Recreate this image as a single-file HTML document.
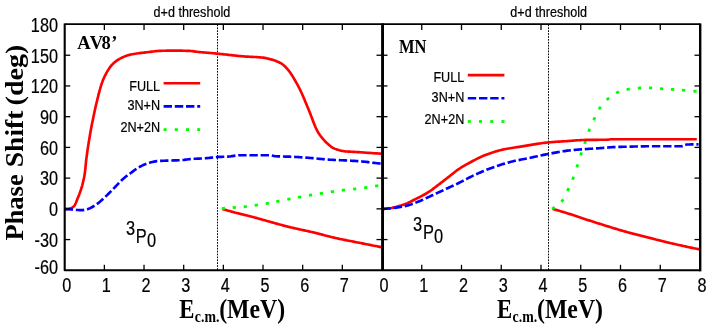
<!DOCTYPE html>
<html><head><meta charset="utf-8"><title>Phase shift</title>
<style>
html,body{margin:0;padding:0;background:#fff;}
body{width:708px;height:327px;overflow:hidden;font-family:"Liberation Sans",sans-serif;}
svg{display:block;will-change:transform;}
</style></head>
<body>
<svg width="708" height="327" viewBox="0 0 708 327">
<rect width="708" height="327" fill="#fff"/>
<g fill="#00ff00">
<rect x="-1.6" y="-1.4" width="3.2" height="2.8" transform="translate(234.30 207.50) rotate(-4.7)"/>
<rect x="-1.6" y="-1.4" width="3.2" height="2.8" transform="translate(245.30 206.60) rotate(-6.2)"/>
<rect x="-1.6" y="-1.4" width="3.2" height="2.8" transform="translate(256.30 205.10) rotate(-8.5)"/>
<rect x="-1.6" y="-1.4" width="3.2" height="2.8" transform="translate(267.30 203.30) rotate(-10.0)"/>
<rect x="-1.6" y="-1.4" width="3.2" height="2.8" transform="translate(277.90 201.30) rotate(-11.0)"/>
<rect x="-1.6" y="-1.4" width="3.2" height="2.8" transform="translate(288.90 199.10) rotate(-10.7)"/>
<rect x="-1.6" y="-1.4" width="3.2" height="2.8" transform="translate(299.60 197.20) rotate(-10.2)"/>
<rect x="-1.6" y="-1.4" width="3.2" height="2.8" transform="translate(310.60 195.20) rotate(-10.1)"/>
<rect x="-1.6" y="-1.4" width="3.2" height="2.8" transform="translate(321.40 193.30) rotate(-9.1)"/>
<rect x="-1.6" y="-1.4" width="3.2" height="2.8" transform="translate(332.40 191.70) rotate(-8.3)"/>
<rect x="-1.6" y="-1.4" width="3.2" height="2.8" transform="translate(343.40 190.10) rotate(-6.9)"/>
<rect x="-1.6" y="-1.4" width="3.2" height="2.8" transform="translate(354.70 189.00) rotate(-6.4)"/>
<rect x="-1.6" y="-1.4" width="3.2" height="2.8" transform="translate(365.70 187.60) rotate(-8.3)"/>
<rect x="-1.6" y="-1.4" width="3.2" height="2.8" transform="translate(376.70 185.80) rotate(-9.3)"/>
<rect x="-1.6" y="-1.4" width="3.2" height="2.8" transform="translate(562.40 200.60) rotate(-51.4)"/>
<rect x="-1.6" y="-1.4" width="3.2" height="2.8" transform="translate(568.10 189.60) rotate(-64.4)"/>
<rect x="-1.6" y="-1.4" width="3.2" height="2.8" transform="translate(573.10 178.30) rotate(-68.8)"/>
<rect x="-1.6" y="-1.4" width="3.2" height="2.8" transform="translate(577.30 165.90) rotate(-71.8)"/>
<rect x="-1.6" y="-1.4" width="3.2" height="2.8" transform="translate(581.10 153.90) rotate(-71.6)"/>
<rect x="-1.6" y="-1.4" width="3.2" height="2.8" transform="translate(585.10 142.40) rotate(-71.1)"/>
<rect x="-1.6" y="-1.4" width="3.2" height="2.8" transform="translate(589.20 130.20) rotate(-68.8)"/>
<rect x="-1.6" y="-1.4" width="3.2" height="2.8" transform="translate(594.30 118.70) rotate(-64.5)"/>
<rect x="-1.6" y="-1.4" width="3.2" height="2.8" transform="translate(599.80 108.00) rotate(-55.5)"/>
<rect x="-1.6" y="-1.4" width="3.2" height="2.8" transform="translate(607.90 98.90) rotate(-41.2)"/>
<rect x="-1.6" y="-1.4" width="3.2" height="2.8" transform="translate(617.60 92.40) rotate(-25.3)"/>
<rect x="-1.6" y="-1.4" width="3.2" height="2.8" transform="translate(628.20 89.30) rotate(-11.2)"/>
<rect x="-1.6" y="-1.4" width="3.2" height="2.8" transform="translate(639.40 88.10) rotate(-3.6)"/>
<rect x="-1.6" y="-1.4" width="3.2" height="2.8" transform="translate(650.60 87.90) rotate(1.5)"/>
<rect x="-1.6" y="-1.4" width="3.2" height="2.8" transform="translate(661.60 88.70) rotate(3.9)"/>
<rect x="-1.6" y="-1.4" width="3.2" height="2.8" transform="translate(672.60 89.40) rotate(3.9)"/>
<rect x="-1.6" y="-1.4" width="3.2" height="2.8" transform="translate(683.60 90.20) rotate(4.8)"/>
<rect x="-1.6" y="-1.4" width="3.2" height="2.8" transform="translate(695.00 91.30) rotate(5.5)"/>
</g>
<g fill="none" stroke-linejoin="round">
<line x1="217.5" y1="24.5" x2="217.5" y2="270.3" stroke="#000" stroke-width="1" stroke-dasharray="1.7 1.2"/>
<line x1="548.5" y1="24.5" x2="548.5" y2="270.3" stroke="#000" stroke-width="1" stroke-dasharray="1.7 1.2"/>
<path d="M64.70,209.10 L66.24,209.08 L67.74,209.03 L69.20,208.87 L70.72,208.38 L72.16,207.63 L73.38,206.77 L74.30,205.85 L75.06,204.67 L75.72,203.28 L76.33,201.79 L76.90,200.28 L77.47,198.84 L78.04,197.45 L78.61,196.05 L79.17,194.65 L79.70,193.23 L80.22,191.81 L80.72,190.38 L81.19,188.95 L81.63,187.51 L82.04,186.07 L82.42,184.61 L82.80,183.16 L83.16,181.69 L83.50,180.22 L83.83,178.74 L84.13,177.26 L84.40,175.77 L84.65,174.29 L84.87,172.80 L85.06,171.31 L85.23,169.81 L85.38,168.31 L85.52,166.81 L85.66,165.31 L85.80,163.80 L85.94,162.30 L86.11,160.80 L86.29,159.31 L86.47,157.81 L86.67,156.32 L86.87,154.82 L87.07,153.33 L87.28,151.84 L87.50,150.34 L87.72,148.85 L87.95,147.36 L88.18,145.87 L88.41,144.38 L88.65,142.89 L88.89,141.40 L89.13,139.91 L89.38,138.43 L89.63,136.94 L89.88,135.45 L90.13,133.97 L90.39,132.48 L90.65,131.00 L90.92,129.52 L91.20,128.04 L91.48,126.56 L91.77,125.08 L92.07,123.60 L92.36,122.12 L92.66,120.64 L92.97,119.16 L93.28,117.69 L93.58,116.21 L93.89,114.74 L94.20,113.26 L94.51,111.79 L94.83,110.31 L95.15,108.84 L95.48,107.37 L95.81,105.90 L96.16,104.43 L96.51,102.97 L96.86,101.50 L97.22,100.03 L97.58,98.56 L97.94,97.09 L98.30,95.62 L98.67,94.15 L99.05,92.69 L99.44,91.22 L99.84,89.77 L100.26,88.32 L100.68,86.87 L101.13,85.44 L101.59,84.01 L102.08,82.60 L102.59,81.19 L103.14,79.80 L103.73,78.40 L104.36,77.02 L105.02,75.66 L105.72,74.31 L106.44,72.99 L107.18,71.69 L107.95,70.39 L108.77,69.10 L109.63,67.82 L110.53,66.59 L111.47,65.43 L112.46,64.34 L113.52,63.31 L114.65,62.31 L115.84,61.35 L117.09,60.44 L118.36,59.58 L119.66,58.81 L120.97,58.12 L122.31,57.47 L123.68,56.86 L125.10,56.28 L126.53,55.74 L127.98,55.26 L129.44,54.85 L130.89,54.50 L132.35,54.21 L133.82,53.95 L135.30,53.70 L136.78,53.48 L138.28,53.28 L139.78,53.08 L141.28,52.90 L142.79,52.73 L144.30,52.56 L145.81,52.39 L147.31,52.22 L148.81,52.05 L150.31,51.86 L151.80,51.66 L153.30,51.46 L154.80,51.27 L156.30,51.10 L157.80,50.97 L159.30,50.90 L160.80,50.85 L162.31,50.80 L163.82,50.76 L165.32,50.72 L166.83,50.69 L168.34,50.66 L169.85,50.64 L171.36,50.62 L172.86,50.61 L174.37,50.60 L175.88,50.60 L177.39,50.61 L178.90,50.63 L180.40,50.65 L181.91,50.68 L183.42,50.72 L184.93,50.76 L186.43,50.81 L187.94,50.86 L189.44,50.92 L190.94,51.03 L192.44,51.18 L193.94,51.37 L195.43,51.58 L196.93,51.79 L198.43,51.98 L199.92,52.14 L201.42,52.29 L202.93,52.42 L204.43,52.55 L205.93,52.68 L207.43,52.80 L208.93,52.93 L210.44,53.05 L211.94,53.17 L213.44,53.30 L214.94,53.43 L216.45,53.56 L217.95,53.70 L219.45,53.85 L220.95,54.01 L222.44,54.17 L223.94,54.33 L225.44,54.50 L226.94,54.67 L228.44,54.83 L229.94,54.99 L231.44,55.16 L232.93,55.32 L234.43,55.50 L235.93,55.67 L237.43,55.83 L238.93,56.00 L240.43,56.15 L241.93,56.29 L243.43,56.41 L244.93,56.52 L246.44,56.61 L247.95,56.69 L249.46,56.76 L250.97,56.83 L252.48,56.90 L253.99,56.97 L255.50,57.05 L257.00,57.13 L258.50,57.23 L260.00,57.35 L261.49,57.48 L262.98,57.65 L264.47,57.88 L265.96,58.16 L267.44,58.49 L268.92,58.85 L270.38,59.24 L271.82,59.64 L273.26,60.07 L274.70,60.54 L276.14,61.07 L277.57,61.65 L278.97,62.28 L280.31,62.96 L281.58,63.70 L282.77,64.50 L283.92,65.44 L285.03,66.47 L286.09,67.59 L287.12,68.75 L288.11,69.93 L289.05,71.11 L289.96,72.29 L290.82,73.51 L291.65,74.77 L292.46,76.05 L293.25,77.35 L294.02,78.66 L294.77,79.97 L295.53,81.28 L296.28,82.58 L297.02,83.90 L297.74,85.22 L298.46,86.55 L299.15,87.89 L299.83,89.24 L300.48,90.59 L301.12,91.95 L301.75,93.32 L302.37,94.69 L302.97,96.07 L303.57,97.46 L304.15,98.85 L304.74,100.24 L305.31,101.63 L305.89,103.03 L306.46,104.43 L307.04,105.82 L307.61,107.22 L308.19,108.61 L308.77,110.00 L309.35,111.39 L309.92,112.80 L310.47,114.21 L311.01,115.63 L311.55,117.06 L312.08,118.49 L312.61,119.92 L313.15,121.34 L313.69,122.76 L314.25,124.16 L314.83,125.56 L315.42,126.94 L316.04,128.30 L316.69,129.64 L317.36,130.96 L318.07,132.26 L318.85,133.52 L319.69,134.76 L320.60,135.98 L321.54,137.18 L322.52,138.35 L323.49,139.49 L324.49,140.63 L325.52,141.74 L326.58,142.82 L327.68,143.85 L328.81,144.83 L329.98,145.83 L331.19,146.79 L332.44,147.64 L333.74,148.33 L335.09,148.87 L336.49,149.38 L337.93,149.85 L339.41,150.27 L340.90,150.64 L342.41,150.94 L343.91,151.18 L345.39,151.35 L346.88,151.48 L348.38,151.59 L349.88,151.68 L351.39,151.76 L352.90,151.84 L354.42,151.91 L355.93,151.99 L357.44,152.08 L358.94,152.18 L360.44,152.29 L361.95,152.39 L363.45,152.50 L364.95,152.61 L366.46,152.72 L367.96,152.83 L369.47,152.93 L370.97,153.04 L372.47,153.15 L373.98,153.25 L375.48,153.35 L376.99,153.44 L378.49,153.53 L379.99,153.62 L381.50,153.70" stroke="#ff0000" stroke-width="2.65"/>
<path d="M222.30,209.00 L223.76,209.43 L225.21,209.85 L226.67,210.27 L228.13,210.68 L229.59,211.09 L231.05,211.49 L232.52,211.89 L233.98,212.28 L235.45,212.66 L236.92,213.03 L238.39,213.40 L239.86,213.76 L241.34,214.12 L242.81,214.48 L244.28,214.84 L245.76,215.20 L247.23,215.56 L248.70,215.93 L250.17,216.30 L251.64,216.68 L253.10,217.07 L254.57,217.47 L256.03,217.87 L257.49,218.28 L258.95,218.69 L260.41,219.10 L261.87,219.51 L263.33,219.93 L264.79,220.34 L266.25,220.75 L267.71,221.16 L269.17,221.57 L270.63,221.97 L272.09,222.38 L273.55,222.79 L275.01,223.20 L276.48,223.61 L277.94,224.01 L279.40,224.42 L280.86,224.82 L282.32,225.22 L283.79,225.61 L285.25,226.00 L286.72,226.38 L288.19,226.75 L289.66,227.11 L291.14,227.46 L292.62,227.80 L294.09,228.14 L295.57,228.47 L297.05,228.80 L298.54,229.12 L300.02,229.44 L301.50,229.76 L302.99,230.08 L304.47,230.40 L305.95,230.72 L307.43,231.05 L308.91,231.38 L310.39,231.72 L311.87,232.06 L313.34,232.41 L314.82,232.76 L316.29,233.13 L317.76,233.50 L319.23,233.88 L320.70,234.27 L322.16,234.65 L323.63,235.04 L325.10,235.42 L326.57,235.81 L328.04,236.19 L329.50,236.56 L330.98,236.93 L332.45,237.29 L333.92,237.65 L335.40,237.99 L336.88,238.32 L338.36,238.64 L339.84,238.95 L341.33,239.26 L342.81,239.57 L344.30,239.87 L345.79,240.16 L347.27,240.45 L348.76,240.74 L350.25,241.03 L351.74,241.32 L353.23,241.61 L354.72,241.90 L356.21,242.19 L357.70,242.48 L359.19,242.78 L360.67,243.07 L362.16,243.37 L363.65,243.67 L365.14,243.96 L366.62,244.26 L368.11,244.55 L369.60,244.85 L371.09,245.14 L372.57,245.44 L374.06,245.73 L375.55,246.03 L377.04,246.32 L378.52,246.61 L380.01,246.91 L381.50,247.20" stroke="#ff0000" stroke-width="2.65"/>
<path d="M382.50,209.00 L384.01,208.91 L385.52,208.79 L387.02,208.63 L388.50,208.45 L389.99,208.21 L391.48,207.94 L392.96,207.63 L394.44,207.29 L395.92,206.91 L397.39,206.51 L398.85,206.09 L400.30,205.65 L401.74,205.20 L403.16,204.74 L404.58,204.27 L405.98,203.74 L407.36,203.16 L408.74,202.54 L410.10,201.88 L411.46,201.20 L412.81,200.50 L414.16,199.80 L415.51,199.11 L416.85,198.42 L418.20,197.75 L419.56,197.07 L420.91,196.38 L422.25,195.68 L423.58,194.97 L424.91,194.24 L426.21,193.50 L427.50,192.72 L428.77,191.92 L430.02,191.08 L431.25,190.22 L432.47,189.33 L433.68,188.42 L434.89,187.51 L436.09,186.58 L437.29,185.66 L438.50,184.75 L439.70,183.84 L440.91,182.93 L442.10,182.01 L443.30,181.09 L444.49,180.16 L445.68,179.23 L446.87,178.31 L448.06,177.38 L449.25,176.45 L450.44,175.52 L451.62,174.57 L452.79,173.62 L453.97,172.67 L455.15,171.72 L456.35,170.80 L457.56,169.91 L458.80,169.06 L460.06,168.24 L461.34,167.44 L462.63,166.66 L463.94,165.90 L465.25,165.15 L466.57,164.41 L467.89,163.68 L469.22,162.96 L470.54,162.23 L471.87,161.50 L473.21,160.78 L474.55,160.07 L475.89,159.36 L477.24,158.67 L478.60,158.00 L479.96,157.34 L481.33,156.70 L482.70,156.09 L484.09,155.51 L485.48,154.96 L486.88,154.44 L488.29,153.92 L489.71,153.42 L491.14,152.93 L492.58,152.45 L494.02,151.99 L495.48,151.55 L496.93,151.12 L498.39,150.71 L499.86,150.32 L501.32,149.96 L502.79,149.61 L504.26,149.29 L505.73,148.99 L507.21,148.71 L508.69,148.46 L510.18,148.21 L511.67,147.98 L513.17,147.75 L514.67,147.53 L516.16,147.30 L517.66,147.08 L519.15,146.84 L520.64,146.59 L522.13,146.34 L523.61,146.08 L525.10,145.83 L526.59,145.58 L528.08,145.33 L529.57,145.10 L531.06,144.86 L532.55,144.62 L534.05,144.38 L535.54,144.14 L537.03,143.90 L538.52,143.67 L540.02,143.45 L541.51,143.23 L543.01,143.03 L544.50,142.84 L546.00,142.66 L547.50,142.50 L549.00,142.35 L550.50,142.22 L552.00,142.10 L553.51,141.98 L555.01,141.87 L556.52,141.77 L558.02,141.67 L559.53,141.58 L561.04,141.48 L562.55,141.39 L564.05,141.30 L565.56,141.20 L567.07,141.11 L568.58,141.01 L570.08,140.90 L571.59,140.79 L573.09,140.67 L574.60,140.54 L576.10,140.42 L577.61,140.30 L579.12,140.20 L580.62,140.10 L582.13,140.01 L583.64,139.95 L585.14,139.91 L586.65,139.88 L588.16,139.86 L589.67,139.85 L591.18,139.84 L592.69,139.83 L594.21,139.82 L595.72,139.82 L597.23,139.81 L598.74,139.80 L600.25,139.79 L601.76,139.78 L603.27,139.77 L604.77,139.75 L606.28,139.72 L607.78,139.69 L609.28,139.45 L610.77,139.22 L612.27,139.20 L613.77,139.20 L615.27,139.20 L616.78,139.20 L618.28,139.20 L619.79,139.20 L621.30,139.20 L622.80,139.20 L624.31,139.20 L625.82,139.20 L627.33,139.20 L628.84,139.20 L630.35,139.20 L631.86,139.20 L633.37,139.20 L634.88,139.20 L636.39,139.20 L637.90,139.20 L639.42,139.20 L640.93,139.20 L642.44,139.20 L643.95,139.20 L645.46,139.20 L646.98,139.20 L648.49,139.20 L650.00,139.20 L651.51,139.20 L653.02,139.20 L654.53,139.20 L656.05,139.20 L657.56,139.20 L659.07,139.20 L660.58,139.20 L662.08,139.20 L663.59,139.20 L665.10,139.20 L666.61,139.20 L668.12,139.21 L669.63,139.21 L671.14,139.21 L672.65,139.22 L674.16,139.22 L675.67,139.22 L677.18,139.23 L678.69,139.23 L680.20,139.24 L681.71,139.24 L683.22,139.25 L684.73,139.25 L686.23,139.26 L687.74,139.26 L689.25,139.27 L690.76,139.28 L692.27,139.28 L693.78,139.29 L695.29,139.29 L696.80,139.30" stroke="#ff0000" stroke-width="2.65"/>
<path d="M552.50,208.90 L553.97,209.31 L555.44,209.72 L556.91,210.14 L558.38,210.56 L559.85,210.99 L561.31,211.42 L562.78,211.86 L564.24,212.30 L565.70,212.75 L567.16,213.20 L568.62,213.65 L570.07,214.12 L571.53,214.59 L572.98,215.07 L574.43,215.55 L575.87,216.04 L577.32,216.53 L578.77,217.02 L580.22,217.51 L581.66,218.00 L583.11,218.48 L584.56,218.96 L586.02,219.44 L587.47,219.91 L588.92,220.38 L590.38,220.85 L591.83,221.31 L593.29,221.78 L594.74,222.25 L596.20,222.71 L597.65,223.17 L599.11,223.63 L600.57,224.09 L602.02,224.55 L603.48,225.01 L604.94,225.46 L606.40,225.91 L607.86,226.36 L609.32,226.81 L610.78,227.26 L612.24,227.71 L613.70,228.16 L615.16,228.61 L616.62,229.06 L618.09,229.50 L619.55,229.94 L621.02,230.37 L622.48,230.80 L623.95,231.23 L625.42,231.64 L626.89,232.05 L628.36,232.45 L629.84,232.85 L631.32,233.24 L632.79,233.62 L634.27,234.00 L635.76,234.38 L637.24,234.75 L638.72,235.12 L640.20,235.49 L641.68,235.86 L643.17,236.24 L644.65,236.61 L646.13,236.99 L647.61,237.37 L649.09,237.75 L650.57,238.13 L652.05,238.51 L653.53,238.89 L655.01,239.28 L656.49,239.66 L657.97,240.04 L659.45,240.41 L660.93,240.79 L662.41,241.16 L663.89,241.53 L665.37,241.90 L666.86,242.26 L668.34,242.61 L669.83,242.96 L671.32,243.31 L672.81,243.65 L674.30,243.99 L675.78,244.33 L677.27,244.67 L678.77,245.00 L680.26,245.33 L681.75,245.66 L683.24,245.99 L684.73,246.31 L686.23,246.63 L687.72,246.95 L689.22,247.27 L690.71,247.58 L692.21,247.89 L693.71,248.20 L695.20,248.50 L696.70,248.81 L698.20,249.10 L699.70,249.40" stroke="#ff0000" stroke-width="2.65"/>
<path d="M64.70,209.10 L66.21,209.10 L67.72,209.10 L69.23,209.14 L70.73,209.31 L72.23,209.56 L73.72,209.79 L75.23,209.91 L76.74,209.98 L78.25,210.03 L79.77,210.07 L81.27,210.10 L82.78,210.07 L84.29,209.87 L85.78,209.55 L87.24,209.17 L88.65,208.74 L90.04,208.18 L91.40,207.51 L92.74,206.75 L94.06,205.94 L95.34,205.10 L96.60,204.27 L97.82,203.42 L99.01,202.51 L100.18,201.55 L101.32,200.55 L102.45,199.53 L103.57,198.49 L104.68,197.45 L105.78,196.41 L106.88,195.38 L107.96,194.32 L109.02,193.25 L110.08,192.17 L111.13,191.08 L112.18,189.99 L113.23,188.91 L114.29,187.82 L115.35,186.75 L116.40,185.66 L117.45,184.56 L118.49,183.46 L119.54,182.37 L120.59,181.28 L121.67,180.22 L122.76,179.18 L123.88,178.18 L125.03,177.22 L126.23,176.30 L127.45,175.41 L128.69,174.54 L129.92,173.66 L131.14,172.76 L132.35,171.84 L133.56,170.91 L134.78,170.00 L136.01,169.11 L137.25,168.27 L138.53,167.48 L139.83,166.76 L141.17,166.06 L142.53,165.38 L143.92,164.74 L145.32,164.14 L146.73,163.61 L148.16,163.14 L149.60,162.72 L151.06,162.32 L152.54,161.94 L154.02,161.61 L155.52,161.34 L157.01,161.14 L158.50,161.03 L160.00,160.93 L161.50,160.84 L163.00,160.77 L164.51,160.71 L166.02,160.66 L167.53,160.61 L169.05,160.57 L170.56,160.53 L172.08,160.49 L173.60,160.44 L175.11,160.39 L176.63,160.34 L178.14,160.28 L179.65,160.20 L181.16,160.12 L182.66,160.00 L184.16,159.85 L185.66,159.66 L187.16,159.47 L188.67,159.28 L190.17,159.10 L191.67,158.95 L193.18,158.85 L194.68,158.77 L196.19,158.70 L197.70,158.64 L199.21,158.58 L200.72,158.52 L202.23,158.45 L203.74,158.38 L205.25,158.28 L206.75,158.16 L208.26,158.01 L209.76,157.84 L211.26,157.66 L212.76,157.48 L214.27,157.31 L215.77,157.16 L217.27,157.04 L218.78,156.94 L220.29,156.87 L221.80,156.81 L223.31,156.76 L224.82,156.70 L226.33,156.64 L227.84,156.56 L229.35,156.47 L230.85,156.31 L232.35,156.09 L233.85,155.85 L235.35,155.61 L236.84,155.40 L238.34,155.26 L239.85,155.20 L241.35,155.20 L242.86,155.20 L244.37,155.20 L245.88,155.20 L247.40,155.20 L248.91,155.20 L250.42,155.20 L251.94,155.20 L253.45,155.20 L254.97,155.20 L256.48,155.20 L258.00,155.20 L259.51,155.20 L261.02,155.20 L262.54,155.20 L264.04,155.20 L265.55,155.20 L267.06,155.20 L268.56,155.20 L270.06,155.24 L271.55,155.47 L273.04,155.79 L274.53,156.08 L276.03,156.23 L277.53,156.31 L279.04,156.38 L280.55,156.43 L282.06,156.48 L283.57,156.52 L285.08,156.56 L286.59,156.60 L288.11,156.64 L289.62,156.69 L291.13,156.74 L292.64,156.81 L294.15,156.88 L295.66,156.96 L297.17,157.05 L298.67,157.14 L300.18,157.24 L301.69,157.34 L303.20,157.45 L304.70,157.56 L306.21,157.67 L307.72,157.78 L309.22,157.90 L310.73,158.02 L312.24,158.13 L313.74,158.26 L315.25,158.40 L316.75,158.55 L318.25,158.70 L319.76,158.85 L321.26,159.00 L322.77,159.15 L324.27,159.29 L325.78,159.42 L327.28,159.53 L328.79,159.63 L330.30,159.72 L331.80,159.80 L333.31,159.88 L334.82,159.95 L336.33,160.02 L337.84,160.09 L339.35,160.15 L340.86,160.22 L342.37,160.29 L343.88,160.36 L345.39,160.43 L346.90,160.51 L348.41,160.59 L349.92,160.67 L351.43,160.76 L352.93,160.84 L354.44,160.93 L355.95,161.02 L357.46,161.11 L358.97,161.22 L360.47,161.33 L361.98,161.45 L363.48,161.59 L364.98,161.75 L366.48,161.93 L367.98,162.12 L369.48,162.31 L370.98,162.51 L372.48,162.70 L373.98,162.88 L375.48,163.05 L376.99,163.20 L378.49,163.34 L379.99,163.47 L381.50,163.60" stroke="#0000ff" stroke-width="2.65" stroke-dasharray="8.4 2.8"/>
<path d="M382.50,209.00 L384.01,208.89 L385.52,208.76 L387.03,208.63 L388.53,208.48 L390.04,208.32 L391.55,208.16 L393.06,208.00 L394.57,207.82 L396.08,207.63 L397.58,207.43 L399.08,207.21 L400.58,206.98 L402.06,206.74 L403.54,206.47 L405.01,206.17 L406.47,205.81 L407.92,205.40 L409.37,204.95 L410.82,204.47 L412.25,203.96 L413.68,203.43 L415.11,202.90 L416.52,202.37 L417.93,201.83 L419.33,201.26 L420.72,200.67 L422.10,200.05 L423.48,199.42 L424.85,198.78 L426.22,198.13 L427.59,197.48 L428.96,196.83 L430.34,196.19 L431.71,195.56 L433.09,194.93 L434.47,194.30 L435.84,193.66 L437.21,193.03 L438.59,192.39 L439.96,191.76 L441.33,191.12 L442.71,190.48 L444.08,189.84 L445.45,189.20 L446.82,188.56 L448.20,187.93 L449.57,187.29 L450.94,186.66 L452.32,186.02 L453.69,185.38 L455.06,184.74 L456.43,184.09 L457.79,183.44 L459.16,182.78 L460.51,182.11 L461.87,181.43 L463.21,180.74 L464.56,180.04 L465.90,179.34 L467.25,178.64 L468.59,177.94 L469.94,177.25 L471.29,176.57 L472.65,175.90 L474.01,175.24 L475.38,174.60 L476.75,173.98 L478.13,173.37 L479.52,172.76 L480.91,172.16 L482.31,171.57 L483.71,170.99 L485.11,170.42 L486.52,169.85 L487.93,169.29 L489.34,168.75 L490.76,168.22 L492.18,167.69 L493.60,167.19 L495.03,166.69 L496.46,166.20 L497.89,165.72 L499.33,165.25 L500.77,164.78 L502.22,164.32 L503.67,163.88 L505.12,163.44 L506.57,163.01 L508.03,162.60 L509.49,162.20 L510.96,161.81 L512.42,161.44 L513.89,161.08 L515.36,160.75 L516.84,160.43 L518.32,160.13 L519.81,159.84 L521.29,159.56 L522.78,159.27 L524.27,158.99 L525.76,158.71 L527.25,158.41 L528.73,158.11 L530.21,157.80 L531.69,157.48 L533.17,157.16 L534.65,156.83 L536.13,156.50 L537.60,156.17 L539.08,155.85 L540.56,155.52 L542.04,155.20 L543.52,154.89 L545.00,154.58 L546.49,154.28 L547.97,154.00 L549.46,153.72 L550.95,153.44 L552.44,153.16 L553.92,152.88 L555.42,152.61 L556.91,152.34 L558.40,152.07 L559.89,151.81 L561.39,151.56 L562.88,151.31 L564.38,151.08 L565.88,150.87 L567.37,150.67 L568.87,150.48 L570.37,150.31 L571.88,150.16 L573.38,150.02 L574.89,149.88 L576.39,149.76 L577.90,149.64 L579.41,149.52 L580.92,149.41 L582.44,149.31 L583.95,149.20 L585.46,149.10 L586.97,149.00 L588.48,148.90 L589.99,148.80 L591.50,148.70 L593.01,148.61 L594.52,148.52 L596.03,148.43 L597.54,148.33 L599.05,148.22 L600.56,148.11 L602.07,147.99 L603.58,147.86 L605.09,147.74 L606.60,147.62 L608.11,147.50 L609.62,147.38 L611.13,147.28 L612.64,147.19 L614.15,147.10 L615.66,147.04 L617.17,146.99 L618.69,146.94 L620.20,146.89 L621.71,146.85 L623.22,146.80 L624.73,146.76 L626.25,146.72 L627.76,146.68 L629.27,146.64 L630.79,146.60 L632.30,146.56 L633.81,146.53 L635.33,146.49 L636.84,146.46 L638.35,146.43 L639.87,146.40 L641.38,146.37 L642.89,146.35 L644.41,146.32 L645.92,146.30 L647.44,146.28 L648.95,146.26 L650.46,146.25 L651.98,146.23 L653.49,146.22 L655.01,146.21 L656.52,146.21 L658.03,146.20 L659.55,146.20 L661.06,146.20 L662.58,146.20 L664.11,146.20 L665.64,146.20 L667.17,146.20 L668.70,146.20 L670.23,146.20 L671.76,146.20 L673.28,146.20 L674.80,146.20 L676.31,146.20 L677.81,146.20 L679.30,146.20 L680.78,146.20 L682.24,146.19 L683.66,145.72 L685.07,144.98 L686.50,144.51 L687.96,144.48 L689.44,144.45 L690.93,144.44 L692.43,144.42 L693.95,144.41 L695.48,144.41 L697.03,144.40 L698.60,144.40" stroke="#0000ff" stroke-width="2.65" stroke-dasharray="8.4 2.8"/>
</g>
<g fill="#00ff00">
<rect x="-1.6" y="-1.4" width="3.2" height="2.8" transform="translate(223.30 208.40) rotate(-4.7)"/>
<rect x="-1.6" y="-1.4" width="3.2" height="2.8" transform="translate(553.40 208.00) rotate(-39.4)"/>
</g>
<g font-family="'Liberation Sans', sans-serif" fill="#000" stroke="#000" stroke-width="0.2">
<text x="160.10" y="90.60" font-size="14.8" text-anchor="end" transform="translate(160.10 0) scale(0.855 1) translate(-160.10 0)">FULL</text>
<line x1="163.6" y1="83.2" x2="200.2" y2="83.2" stroke="#ff0000" stroke-width="2.65"/>
<text x="160.10" y="109.80" font-size="14.8" text-anchor="end" transform="translate(160.10 0) scale(0.855 1) translate(-160.10 0)">3N+N</text>
<line x1="163.6" y1="106.3" x2="200.2" y2="106.3" stroke="#0000ff" stroke-width="2.65" stroke-dasharray="8.4 2.8"/>
<text x="160.10" y="132.30" font-size="14.8" text-anchor="end" transform="translate(160.10 0) scale(0.855 1) translate(-160.10 0)">2N+2N</text>
<rect x="163.60" y="128.20" width="3" height="2.8" fill="#00ff00" stroke="none"/>
<rect x="174.80" y="128.20" width="3" height="2.8" fill="#00ff00" stroke="none"/>
<rect x="186.00" y="128.20" width="3" height="2.8" fill="#00ff00" stroke="none"/>
<rect x="197.20" y="128.20" width="3" height="2.8" fill="#00ff00" stroke="none"/>
<text x="464.30" y="82.50" font-size="14.8" text-anchor="end" transform="translate(464.30 0) scale(0.855 1) translate(-464.30 0)">FULL</text>
<line x1="467.79999999999995" y1="75.10000000000001" x2="504.4" y2="75.10000000000001" stroke="#ff0000" stroke-width="2.65"/>
<text x="464.30" y="101.70" font-size="14.8" text-anchor="end" transform="translate(464.30 0) scale(0.855 1) translate(-464.30 0)">3N+N</text>
<line x1="467.79999999999995" y1="98.2" x2="504.4" y2="98.2" stroke="#0000ff" stroke-width="2.65" stroke-dasharray="8.4 2.8"/>
<text x="464.30" y="124.20" font-size="14.8" text-anchor="end" transform="translate(464.30 0) scale(0.855 1) translate(-464.30 0)">2N+2N</text>
<rect x="467.80" y="120.10" width="3" height="2.8" fill="#00ff00" stroke="none"/>
<rect x="479.00" y="120.10" width="3" height="2.8" fill="#00ff00" stroke="none"/>
<rect x="490.20" y="120.10" width="3" height="2.8" fill="#00ff00" stroke="none"/>
<rect x="501.40" y="120.10" width="3" height="2.8" fill="#00ff00" stroke="none"/>
<text x="191.9" y="16.7" font-size="14.3" text-anchor="middle" transform="translate(191.9 0) scale(0.882 1) translate(-191.9 0)">d+d threshold</text>
<text x="548.7" y="16.7" font-size="14.3" text-anchor="middle" transform="translate(548.7 0) scale(0.882 1) translate(-548.7 0)">d+d threshold</text>
<text x="58.0" y="31.80" font-size="19.3" text-anchor="end" transform="translate(58.0 0) scale(0.843 1) translate(-58.0 0)">180</text>
<text x="58.0" y="62.52" font-size="19.3" text-anchor="end" transform="translate(58.0 0) scale(0.843 1) translate(-58.0 0)">150</text>
<text x="58.0" y="93.25" font-size="19.3" text-anchor="end" transform="translate(58.0 0) scale(0.843 1) translate(-58.0 0)">120</text>
<text x="58.0" y="123.98" font-size="19.3" text-anchor="end" transform="translate(58.0 0) scale(0.843 1) translate(-58.0 0)">90</text>
<text x="58.0" y="154.70" font-size="19.3" text-anchor="end" transform="translate(58.0 0) scale(0.843 1) translate(-58.0 0)">60</text>
<text x="58.0" y="185.43" font-size="19.3" text-anchor="end" transform="translate(58.0 0) scale(0.843 1) translate(-58.0 0)">30</text>
<text x="58.0" y="216.15" font-size="19.3" text-anchor="end" transform="translate(58.0 0) scale(0.843 1) translate(-58.0 0)">0</text>
<text x="58.0" y="246.88" font-size="19.3" text-anchor="end" transform="translate(58.0 0) scale(0.843 1) translate(-58.0 0)">-30</text>
<text x="58.0" y="273.70" font-size="19.3" text-anchor="end" transform="translate(58.0 0) scale(0.843 1) translate(-58.0 0)">-60</text>
<text x="66.70" y="292.5" font-size="19.3" text-anchor="middle" transform="translate(66.70 0) scale(0.843 1) translate(-66.70 0)">0</text>
<text x="106.36" y="292.5" font-size="19.3" text-anchor="middle" transform="translate(106.36 0) scale(0.843 1) translate(-106.36 0)">1</text>
<text x="146.03" y="292.5" font-size="19.3" text-anchor="middle" transform="translate(146.03 0) scale(0.843 1) translate(-146.03 0)">2</text>
<text x="185.69" y="292.5" font-size="19.3" text-anchor="middle" transform="translate(185.69 0) scale(0.843 1) translate(-185.69 0)">3</text>
<text x="225.35" y="292.5" font-size="19.3" text-anchor="middle" transform="translate(225.35 0) scale(0.843 1) translate(-225.35 0)">4</text>
<text x="265.01" y="292.5" font-size="19.3" text-anchor="middle" transform="translate(265.01 0) scale(0.843 1) translate(-265.01 0)">5</text>
<text x="304.68" y="292.5" font-size="19.3" text-anchor="middle" transform="translate(304.68 0) scale(0.843 1) translate(-304.68 0)">6</text>
<text x="344.34" y="292.5" font-size="19.3" text-anchor="middle" transform="translate(344.34 0) scale(0.843 1) translate(-344.34 0)">7</text>
<text x="384.00" y="292.5" font-size="19.3" text-anchor="middle" transform="translate(384.00 0) scale(0.843 1) translate(-384.00 0)">0</text>
<text x="423.75" y="292.5" font-size="19.3" text-anchor="middle" transform="translate(423.75 0) scale(0.843 1) translate(-423.75 0)">1</text>
<text x="463.50" y="292.5" font-size="19.3" text-anchor="middle" transform="translate(463.50 0) scale(0.843 1) translate(-463.50 0)">2</text>
<text x="503.25" y="292.5" font-size="19.3" text-anchor="middle" transform="translate(503.25 0) scale(0.843 1) translate(-503.25 0)">3</text>
<text x="543.00" y="292.5" font-size="19.3" text-anchor="middle" transform="translate(543.00 0) scale(0.843 1) translate(-543.00 0)">4</text>
<text x="582.75" y="292.5" font-size="19.3" text-anchor="middle" transform="translate(582.75 0) scale(0.843 1) translate(-582.75 0)">5</text>
<text x="622.50" y="292.5" font-size="19.3" text-anchor="middle" transform="translate(622.50 0) scale(0.843 1) translate(-622.50 0)">6</text>
<text x="662.25" y="292.5" font-size="19.3" text-anchor="middle" transform="translate(662.25 0) scale(0.843 1) translate(-662.25 0)">7</text>
<text x="702.00" y="292.5" font-size="19.3" text-anchor="middle" transform="translate(702.00 0) scale(0.843 1) translate(-702.00 0)">8</text>
<text x="126.0" y="242.8" font-size="19.3" transform="translate(126.0 0) scale(0.85 1) translate(-126.0 0)"><tspan dy="-7.8">3</tspan><tspan dy="7.8" dx="0.8">P</tspan><tspan dy="3.8" dx="0.2">0</tspan></text>
<text x="413.1" y="238.8" font-size="19.3" transform="translate(413.1 0) scale(0.85 1) translate(-413.1 0)"><tspan dy="-7.8">3</tspan><tspan dy="7.8" dx="0.8">P</tspan><tspan dy="3.8" dx="0.2">0</tspan></text>
</g>
<g font-family="'Liberation Serif', serif" font-weight="bold" fill="#000">
<text x="77.2 89.7 101.5 111.2" y="48.8" font-size="18.5">AV8’</text>
<text x="399" y="53" font-size="18" textLength="27.5" lengthAdjust="spacingAndGlyphs">MN</text>
<text transform="translate(22.7 240.6) rotate(-90)" font-size="25.5" textLength="66.3" lengthAdjust="spacingAndGlyphs">Phase</text>
<text transform="translate(22.7 167.2) rotate(-90)" font-size="25.5" textLength="56.6" lengthAdjust="spacingAndGlyphs">Shift</text>
<text transform="translate(22.7 105.4) rotate(-90)" font-size="25.5" textLength="60.6" lengthAdjust="spacingAndGlyphs">(deg)</text>
<text x="179.2" y="317.7" font-size="26.5" textLength="15.2" lengthAdjust="spacingAndGlyphs">E</text>
<text x="194.79999999999998" y="321.7" font-size="17.5" textLength="24.6" lengthAdjust="spacingAndGlyphs">c.m.</text>
<text x="219.2" y="317.9" font-size="27" textLength="66" lengthAdjust="spacingAndGlyphs">(MeV)</text>
<text x="497" y="317.7" font-size="26.5" textLength="15.2" lengthAdjust="spacingAndGlyphs">E</text>
<text x="512.6" y="321.7" font-size="17.5" textLength="24.6" lengthAdjust="spacingAndGlyphs">c.m.</text>
<text x="537.0" y="317.9" font-size="27" textLength="66" lengthAdjust="spacingAndGlyphs">(MeV)</text>
</g>
<g stroke="#000" fill="none" stroke-linecap="butt" stroke-linejoin="round">
<line x1="64.7" y1="24.2" x2="700.0" y2="24.2" stroke-width="1.8"/>
<path d="M64.7,23.4 V270.3 H700.2" stroke-width="2.1"/>
<line x1="700.2" y1="23.4" x2="700.2" y2="271.35" stroke-width="2.4"/>
<line x1="382.55" y1="23.4" x2="382.55" y2="270.3" stroke-width="2.9"/>
<line x1="104.36" y1="270.3" x2="104.36" y2="264.8" stroke-width="1.3"/>
<line x1="104.36" y1="24.5" x2="104.36" y2="30.0" stroke-width="1.3"/>
<line x1="144.03" y1="270.3" x2="144.03" y2="264.8" stroke-width="1.3"/>
<line x1="144.03" y1="24.5" x2="144.03" y2="30.0" stroke-width="1.3"/>
<line x1="183.69" y1="270.3" x2="183.69" y2="264.8" stroke-width="1.3"/>
<line x1="183.69" y1="24.5" x2="183.69" y2="30.0" stroke-width="1.3"/>
<line x1="223.35" y1="270.3" x2="223.35" y2="264.8" stroke-width="1.3"/>
<line x1="223.35" y1="24.5" x2="223.35" y2="30.0" stroke-width="1.3"/>
<line x1="263.01" y1="270.3" x2="263.01" y2="264.8" stroke-width="1.3"/>
<line x1="263.01" y1="24.5" x2="263.01" y2="30.0" stroke-width="1.3"/>
<line x1="302.68" y1="270.3" x2="302.68" y2="264.8" stroke-width="1.3"/>
<line x1="302.68" y1="24.5" x2="302.68" y2="30.0" stroke-width="1.3"/>
<line x1="342.34" y1="270.3" x2="342.34" y2="264.8" stroke-width="1.3"/>
<line x1="342.34" y1="24.5" x2="342.34" y2="30.0" stroke-width="1.3"/>
<line x1="421.75" y1="270.3" x2="421.75" y2="264.8" stroke-width="1.3"/>
<line x1="421.75" y1="24.5" x2="421.75" y2="30.0" stroke-width="1.3"/>
<line x1="461.50" y1="270.3" x2="461.50" y2="264.8" stroke-width="1.3"/>
<line x1="461.50" y1="24.5" x2="461.50" y2="30.0" stroke-width="1.3"/>
<line x1="501.25" y1="270.3" x2="501.25" y2="264.8" stroke-width="1.3"/>
<line x1="501.25" y1="24.5" x2="501.25" y2="30.0" stroke-width="1.3"/>
<line x1="541.00" y1="270.3" x2="541.00" y2="264.8" stroke-width="1.3"/>
<line x1="541.00" y1="24.5" x2="541.00" y2="30.0" stroke-width="1.3"/>
<line x1="580.75" y1="270.3" x2="580.75" y2="264.8" stroke-width="1.3"/>
<line x1="580.75" y1="24.5" x2="580.75" y2="30.0" stroke-width="1.3"/>
<line x1="620.50" y1="270.3" x2="620.50" y2="264.8" stroke-width="1.3"/>
<line x1="620.50" y1="24.5" x2="620.50" y2="30.0" stroke-width="1.3"/>
<line x1="660.25" y1="270.3" x2="660.25" y2="264.8" stroke-width="1.3"/>
<line x1="660.25" y1="24.5" x2="660.25" y2="30.0" stroke-width="1.3"/>
<line x1="64.7" y1="55.23" x2="70.2" y2="55.23" stroke-width="1.3"/>
<line x1="376.5" y1="55.23" x2="387.5" y2="55.23" stroke-width="1.3"/>
<line x1="694.5" y1="55.23" x2="700.0" y2="55.23" stroke-width="1.3"/>
<line x1="64.7" y1="85.95" x2="70.2" y2="85.95" stroke-width="1.3"/>
<line x1="376.5" y1="85.95" x2="387.5" y2="85.95" stroke-width="1.3"/>
<line x1="694.5" y1="85.95" x2="700.0" y2="85.95" stroke-width="1.3"/>
<line x1="64.7" y1="116.68" x2="70.2" y2="116.68" stroke-width="1.3"/>
<line x1="376.5" y1="116.68" x2="387.5" y2="116.68" stroke-width="1.3"/>
<line x1="694.5" y1="116.68" x2="700.0" y2="116.68" stroke-width="1.3"/>
<line x1="64.7" y1="147.40" x2="70.2" y2="147.40" stroke-width="1.3"/>
<line x1="376.5" y1="147.40" x2="387.5" y2="147.40" stroke-width="1.3"/>
<line x1="694.5" y1="147.40" x2="700.0" y2="147.40" stroke-width="1.3"/>
<line x1="64.7" y1="178.12" x2="70.2" y2="178.12" stroke-width="1.3"/>
<line x1="376.5" y1="178.12" x2="387.5" y2="178.12" stroke-width="1.3"/>
<line x1="694.5" y1="178.12" x2="700.0" y2="178.12" stroke-width="1.3"/>
<line x1="64.7" y1="208.85" x2="70.2" y2="208.85" stroke-width="1.3"/>
<line x1="376.5" y1="208.85" x2="387.5" y2="208.85" stroke-width="1.3"/>
<line x1="694.5" y1="208.85" x2="700.0" y2="208.85" stroke-width="1.3"/>
<line x1="64.7" y1="239.58" x2="70.2" y2="239.58" stroke-width="1.3"/>
<line x1="376.5" y1="239.58" x2="387.5" y2="239.58" stroke-width="1.3"/>
<line x1="694.5" y1="239.58" x2="700.0" y2="239.58" stroke-width="1.3"/>
</g>
</svg>
</body></html>
